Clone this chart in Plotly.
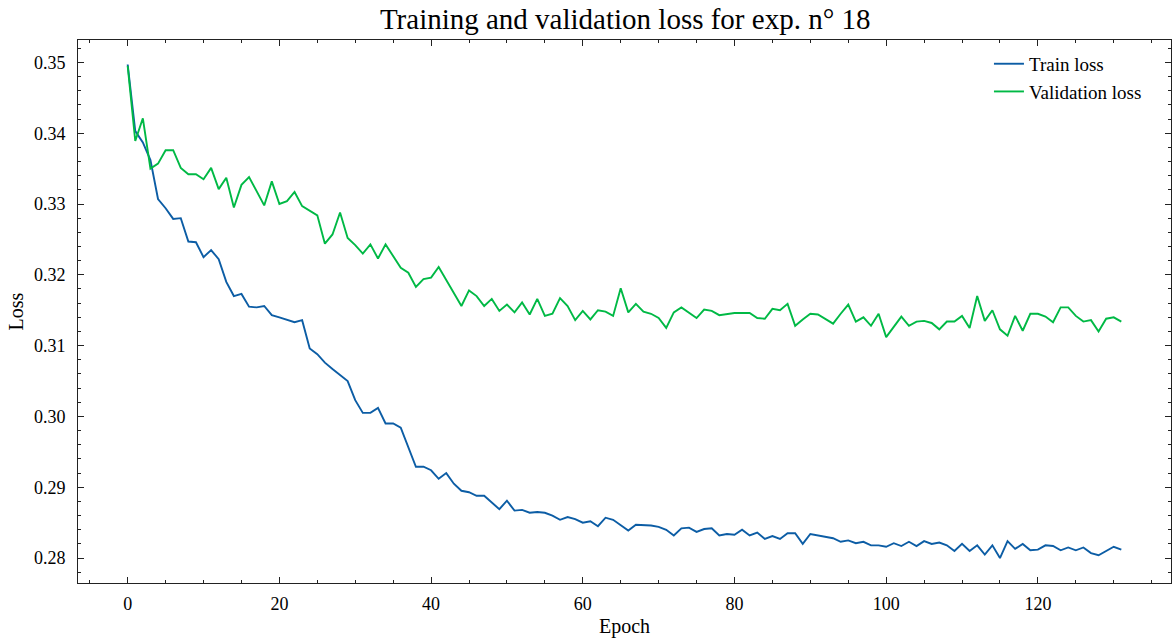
import plotly.graph_objects as go

epochs = list(range(132))

train_loss = [
    0.3497, 0.3403, 0.3387, 0.3362, 0.3307, 0.3294, 0.3279, 0.3280, 0.3247, 0.3246,
    0.3225, 0.3235, 0.3222, 0.3190, 0.3170, 0.3173, 0.3155, 0.3154, 0.3156, 0.3143,
    0.3140, 0.3136, 0.3133, 0.3136, 0.3096, 0.3088, 0.3076, 0.3067, 0.3058, 0.3050,
    0.3023, 0.3005, 0.3005, 0.3012, 0.2990, 0.2990, 0.2984, 0.2957, 0.2929, 0.2929,
    0.2924, 0.2912, 0.2920, 0.2905, 0.2895, 0.2893, 0.2888, 0.2888, 0.2879, 0.2869,
    0.2881, 0.2867, 0.2868, 0.2864, 0.2865, 0.2864, 0.2860, 0.2854, 0.2858, 0.2855,
    0.2850, 0.2852, 0.2845, 0.2857, 0.2854, 0.2846, 0.2839, 0.2847, 0.2847, 0.2846,
    0.2844, 0.2840, 0.2832, 0.2842, 0.2843, 0.2837, 0.2841, 0.2842, 0.2832, 0.2834,
    0.2833, 0.2840, 0.2832, 0.2836, 0.2827, 0.2831, 0.2827, 0.2835, 0.2835, 0.2820,
    0.2834, 0.2832, 0.2831, 0.2828, 0.2823, 0.2825, 0.2821, 0.2823, 0.2818, 0.2818,
    0.2816, 0.2821, 0.2817, 0.2823, 0.2817, 0.2824, 0.2820, 0.2822, 0.2818, 0.2810,
    0.2820, 0.2810, 0.2818, 0.2805, 0.2818, 0.2800, 0.2824, 0.2813, 0.2820, 0.2811,
    0.2812, 0.2818, 0.2817, 0.2811, 0.2815, 0.2811, 0.2815, 0.2807, 0.2804, 0.2810,
    0.2816, 0.2812,
]

val_loss = [
    0.3495, 0.3389, 0.3421, 0.3350, 0.3357, 0.3376, 0.3376, 0.3351, 0.3342, 0.3342,
    0.3335, 0.3351, 0.3321, 0.3337, 0.3295, 0.3327, 0.3338, 0.3318, 0.3298, 0.3332,
    0.3300, 0.3304, 0.3317, 0.3297, 0.3290, 0.3284, 0.3244, 0.3257, 0.3288, 0.3252,
    0.3242, 0.3230, 0.3243, 0.3223, 0.3243, 0.3226, 0.3210, 0.3203, 0.3183, 0.3194,
    0.3196, 0.3211, 0.3193, 0.3174, 0.3156, 0.3178, 0.3170, 0.3156, 0.3166, 0.3149,
    0.3158, 0.3147, 0.3161, 0.3144, 0.3166, 0.3142, 0.3145, 0.3167, 0.3156, 0.3136,
    0.3149, 0.3137, 0.3150, 0.3148, 0.3142, 0.3181, 0.3147, 0.3159, 0.3148, 0.3145,
    0.3139, 0.3125, 0.3147, 0.3154, 0.3146, 0.3139, 0.3151, 0.3149, 0.3143, 0.3145,
    0.3146, 0.3146, 0.3146, 0.3139, 0.3138, 0.3152, 0.3150, 0.3159, 0.3128, 0.3137,
    0.3145, 0.3144, 0.3138, 0.3131, 0.3145, 0.3158, 0.3134, 0.3140, 0.3128, 0.3145,
    0.3112, 0.3127, 0.3141, 0.3128, 0.3134, 0.3135, 0.3132, 0.3123, 0.3134, 0.3134,
    0.3142, 0.3125, 0.3170, 0.3135, 0.3150, 0.3123, 0.3114, 0.3142, 0.3121, 0.3145,
    0.3145, 0.3141, 0.3133, 0.3154, 0.3154, 0.3142, 0.3134, 0.3136, 0.3120, 0.3138,
    0.3140, 0.3134,
]

series_names = ["Train loss", "Validation loss"]
series_colors = ["#0C5DA5", "#00B945"]

FONT = "Liberation Serif"

fig = go.Figure()
for name, vals, col in zip(series_names, [train_loss, val_loss], series_colors):
    fig.add_trace(go.Scatter(x=epochs, y=vals, mode="lines", name=name,
                             line=dict(color=col, width=1.9)))

axis_common = dict(
    showline=True, linecolor="#222222", linewidth=1, mirror="allticks",
    ticks="inside", ticklen=6, tickwidth=1, tickcolor="#222222",
    showgrid=False, zeroline=False, automargin=False,
    tickfont=dict(family=FONT, size=18, color="black"),
)

fig.update_xaxes(
    range=[-6.55, 137.55], tick0=0, dtick=20,
    minor=dict(ticks="inside", ticklen=3, dtick=5, tick0=0, tickcolor="#222222", showgrid=False),
    title=dict(text="Epoch", font=dict(family=FONT, size=20, color="black"), standoff=6),
    ticklabelstandoff=4,
    **axis_common,
)
fig.update_yaxes(
    range=[0.27648, 0.35316], tick0=0.28, dtick=0.01, tickformat=".2f",
    minor=dict(ticks="inside", ticklen=3, dtick=0.002, tick0=0.28, tickcolor="#222222", showgrid=False),
    title=dict(text="Loss", font=dict(family=FONT, size=20, color="black"), standoff=4),
    ticklabelstandoff=8,
    **axis_common,
)

fig.update_layout(
    width=1173, height=639,
    margin=dict(l=78, r=2, t=40, b=56),
    plot_bgcolor="white", paper_bgcolor="white",
    title=dict(text="Training and validation loss for exp. n° 18",
               x=0.533, xanchor="center", y=0.970, yanchor="middle",
               font=dict(family=FONT, size=29, color="black")),
    legend=dict(x=0.978, y=0.991, xanchor="right", yanchor="top",
                bgcolor="rgba(0,0,0,0)", borderwidth=0, tracegroupgap=0,
                font=dict(family=FONT, size=19, color="black")),
    showlegend=True,
)

fig.write_html("out.html", config={"displayModeBar": False},
               post_script="document.body.style.margin='0';")
